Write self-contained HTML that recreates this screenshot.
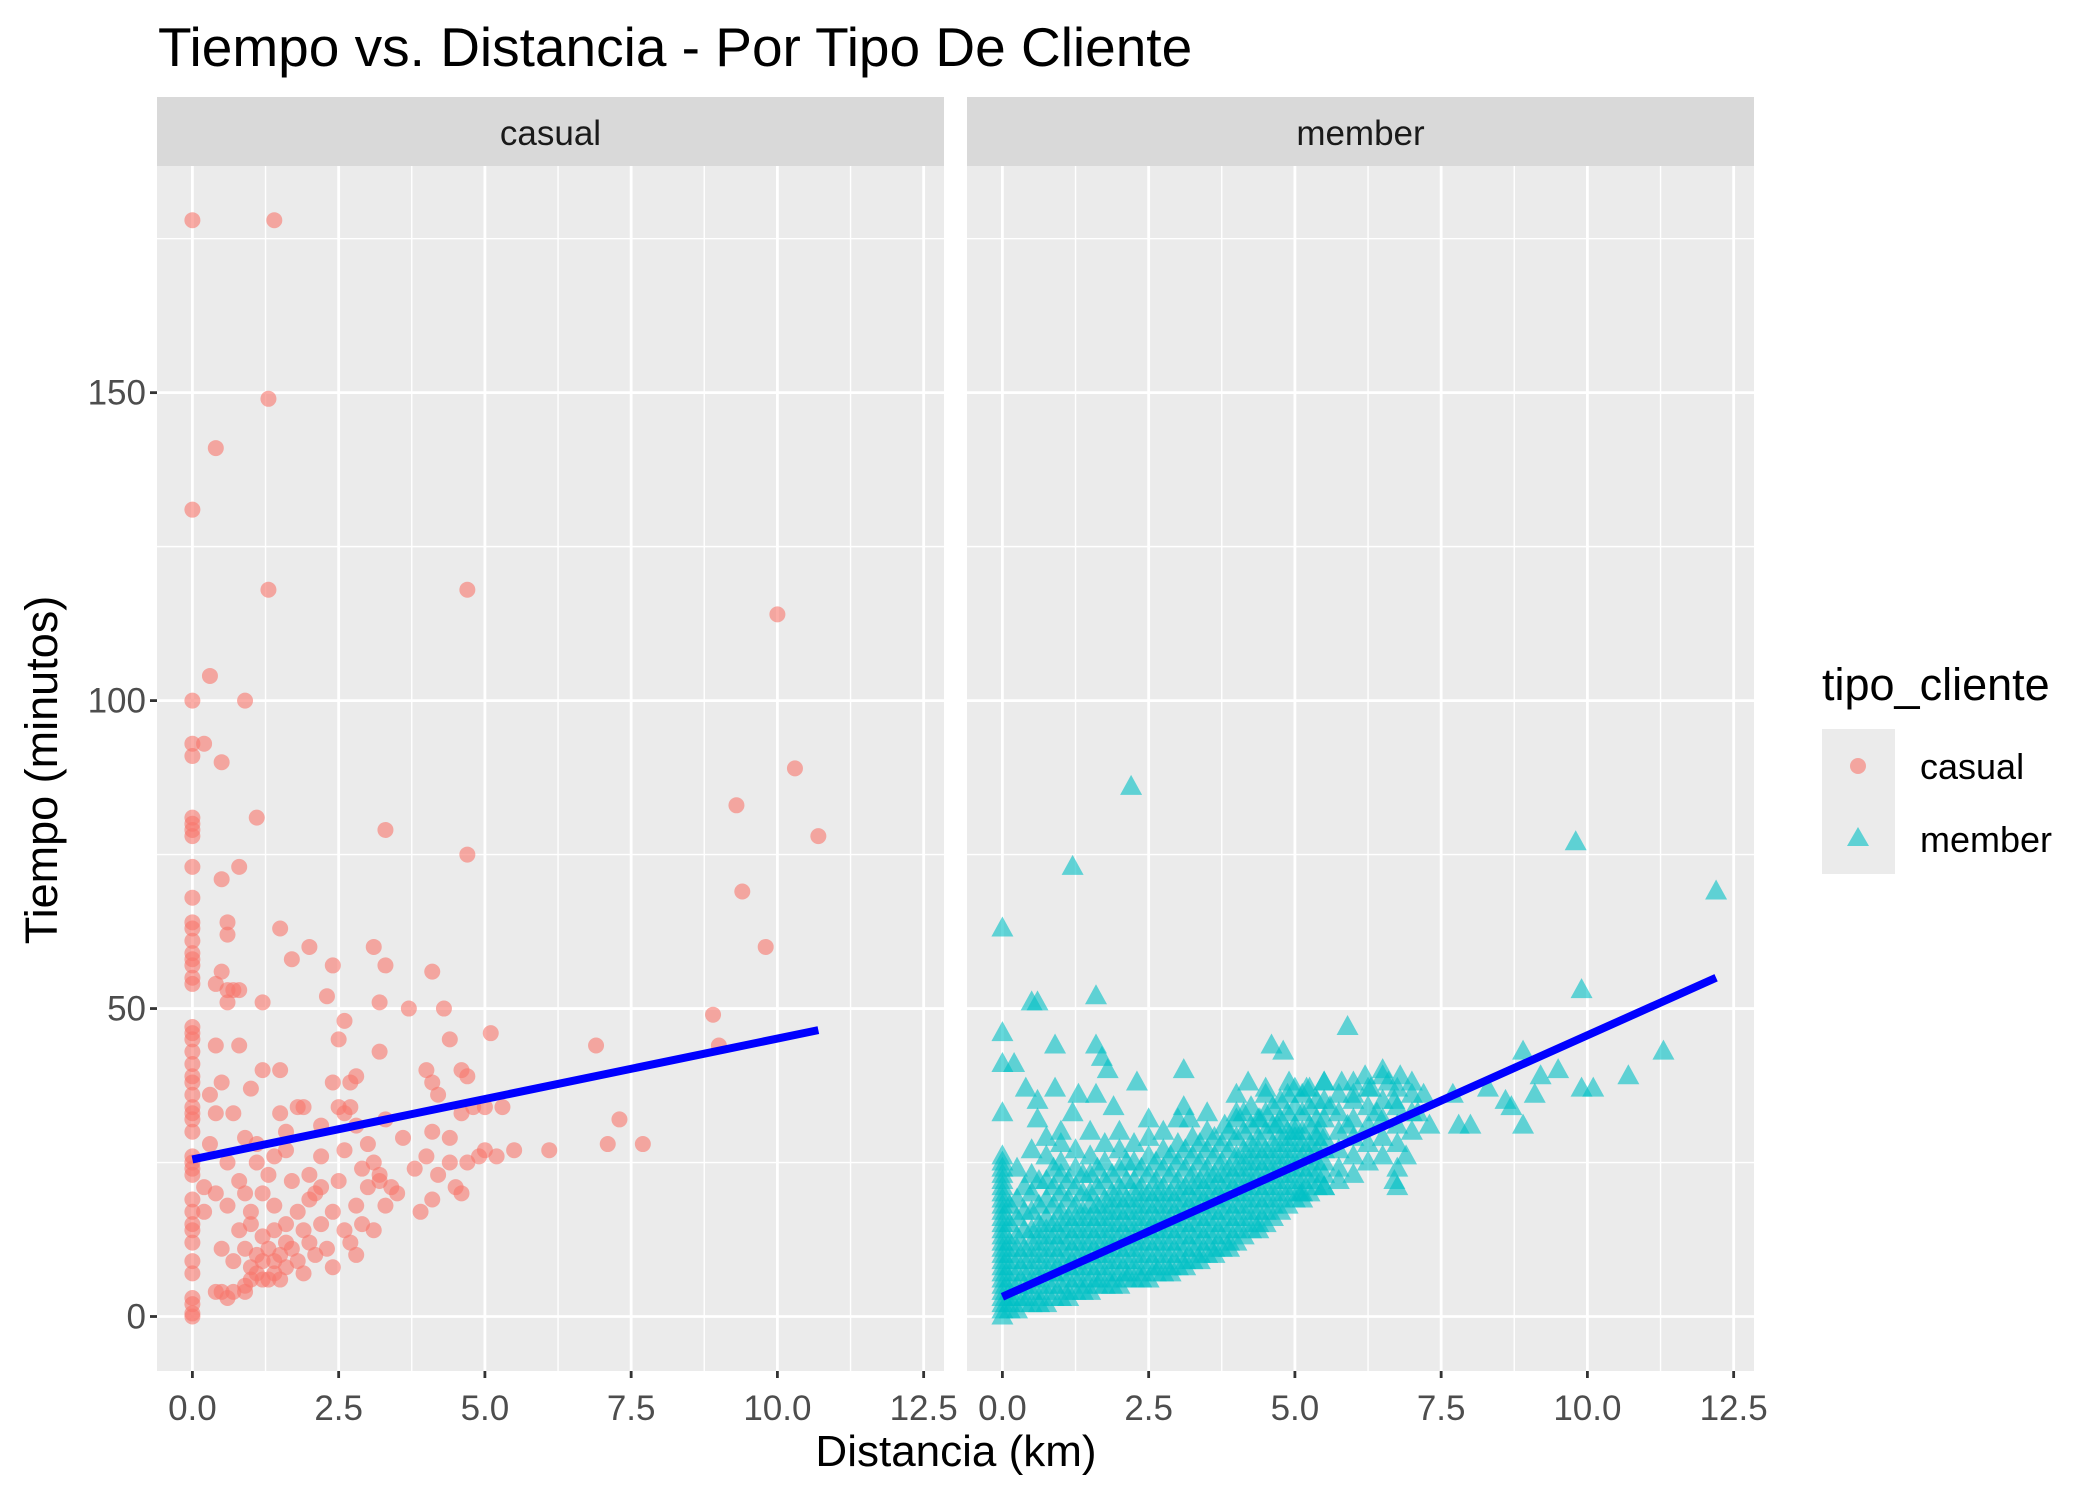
<!DOCTYPE html>
<html><head><meta charset="utf-8"><style>
html,body{margin:0;padding:0;background:#fff;}
svg{display:block;font-family:"Liberation Sans",Arial,sans-serif;}
</style></head><body>
<svg id="chart" width="2100" height="1500" viewBox="0 0 2100 1500" xmlns="http://www.w3.org/2000/svg">
<rect width="2100" height="1500" fill="#fff"/>
<text x="158" y="66" font-size="55" fill="#000">Tiempo vs. Distancia - Por Tipo De Cliente</text>
<text transform="translate(57,770) rotate(-90)" text-anchor="middle" font-size="45" fill="#000">Tiempo (minutos)</text>
<text x="956" y="1466" text-anchor="middle" font-size="44" fill="#000">Distancia (km)</text>
<g id="panels"></g>
<g>
<text x="1822" y="700" font-size="45" fill="#000">tipo_cliente</text>
<rect x="1822" y="729" width="73" height="145" fill="#EBEBEB"/>
<circle cx="1858" cy="766" r="8" fill="#F8766D" fill-opacity="0.6"/>
<polygon points="1858,827 1869,846 1847,846" fill="#00BFC4" fill-opacity="0.6"/>
<text x="1920" y="779" font-size="36" fill="#000">casual</text>
<text x="1920" y="852" font-size="36" fill="#000">member</text>
</g>
</svg>
<script>
const xTicks=[0,2.5,5,7.5,10,12.5];
const xTickLabels=["0.0","2.5","5.0","7.5","10.0","12.5"];
const yTicks=[0,50,100,150];
const yTickLabels=["0","50","100","150"];
const xMinor=[1.25,3.75,6.25,8.75,11.25];
const yMinor=[25,75,125,175];
const panelNames=["casual","member"];
const casualPoints=[[0,178],[1.4,178],[1.3,149],[0.4,141],[0,131],[1.3,118],[4.7,118],[10,114],[0.3,104],[0,100],[0.9,100],[0,93],[0.2,93],[0,91],[0.5,90],[10.3,89],[9.3,83],[1.1,81],[0,81],[0,80],[0,79],[0,78],[3.3,79],[10.7,78],[4.7,75],[0.8,73],[0,73],[0.5,71],[9.4,69],[0,68],[0.6,64],[0,64],[0,63],[1.5,63],[0.6,62],[0,61],[9.8,60],[2,60],[3.1,60],[0,59],[0,58],[1.7,58],[0,57],[2.4,57],[3.3,57],[4.1,56],[0.5,56],[0,55],[0,54],[0.4,54],[0.6,53],[0.8,53],[0.7,53],[2.3,52],[0.6,51],[1.2,51],[3.2,51],[3.7,50],[4.3,50],[8.9,49],[2.6,48],[0,47],[0,46],[5.1,46],[0,45],[2.5,45],[4.4,45],[6.9,44],[0.4,44],[0.8,44],[9,44],[0,43],[3.2,43],[0,41],[1.2,40],[1.5,40],[4,40],[4.6,40],[4.7,39],[0,39],[0,38],[0.5,38],[2.4,38],[2.7,38],[2.8,39],[4.1,38],[4.8,34],[0,36],[0,34],[1,37],[4.2,36],[0,33],[0.4,33],[0.7,33],[1.5,33],[1.8,34],[1.9,34],[3.3,32],[4.6,33],[5.3,34],[5,34],[7.3,32],[0,32],[0,30],[1.6,30],[0.9,29],[2.5,34],[2.6,33],[2.7,34],[3.6,29],[4.1,30],[4.4,29],[7.1,28],[7.7,28],[6.1,27],[5.5,27],[5.2,26],[5.0,27],[4.9,26],[0,26],[0.3,28],[1.1,25],[1.4,26],[1.6,27],[2.2,26],[2.6,27],[3.1,25],[4.0,26],[4.4,25],[4.7,25],[0,25],[0,24],[0,23],[0.6,25],[1.3,23],[1.7,22],[2.0,23],[2.5,22],[3.2,23],[3.8,24],[4.2,23],[4.5,21],[0.2,21],[0.4,20],[0.9,20],[1.2,20],[2.1,20],[3.0,21],[3.5,20],[4.1,19],[4.6,20],[0,19],[0,17],[0,15],[0.2,17],[0.6,18],[1.0,17],[1.4,18],[1.8,17],[2.4,17],[2.8,18],[3.3,18],[3.9,17],[0,14],[0,12],[0,9],[0,7],[0.5,11],[0.8,14],[1.0,15],[1.2,13],[1.4,14],[1.6,15],[1.9,14],[2.2,15],[2.6,14],[2.9,15],[3.1,14],[0.9,11],[1.1,10],[1.3,11],[1.5,10],[1.7,11],[2.0,12],[2.3,11],[2.7,12],[0.7,9],[1.0,8],[1.2,9],[1.4,7],[1.6,8],[1.8,9],[2.1,10],[2.4,8],[2.8,10],[0.5,4],[0.6,3],[0.7,4],[0.9,5],[1.0,6],[1.1,7],[1.3,6],[1.5,6],[1.9,7],[0.9,4],[0,3],[0,2],[0,0],[0,0.5],[0.4,4],[1.2,6],[1.4,9],[1.6,12],[2.0,19],[2.2,21],[2.9,24],[3.2,22],[3.4,21],[0.8,22],[1.1,28],[2.2,31],[2.8,31],[0.3,36],[3.0,28]];
const memberOutliers=[[2.2,86],[9.8,77],[1.2,73],[12.2,69],[0,63],[9.9,53],[1.6,52],[0.5,51],[0.6,51],[5.9,47],[0,46],[0.9,44],[1.6,44],[4.6,44],[4.8,43],[1.7,42],[11.3,43],[8.9,43],[0,41],[0.2,41],[1.8,40],[3.1,40],[10.7,39],[9.5,40],[9.2,39],[0.4,37],[0.9,37],[2.3,38],[9.9,37],[10.1,37],[0,33],[0.6,35],[1.3,36],[1.6,36],[0.6,32],[1.0,30],[1.2,33],[1.9,34],[3.1,34],[3.2,32],[8.3,37],[8.6,35],[8.7,34],[9.1,36],[8.9,31],[7.8,31],[8.0,31],[7.3,31],[7.1,33],[7.7,36],[7.0,38],[6.8,39],[6.5,40],[6.2,39],[5.8,38],[5.5,38],[5.2,37],[4.9,38],[4.5,37],[4.2,38],[6.0,36],[6.3,37],[6.6,38],[5.6,34],[5.9,31],[6.4,33],[6.7,35],[7.2,36],[5.4,30],[6.7,22],[6.9,26],[5.1,20],[5.5,21],[4.4,32],[3.8,31],[4.0,33],[4.7,31],[5.0,30]];
const memberCloudDist=[0,0.125,0.25,0.375,0.5,0.625,0.75,0.875,1.0,1.125,1.25,1.375,1.5,1.625,1.75,1.875,2.0,2.125,2.25,2.375,2.5,2.625,2.75,2.875,3.0,3.125,3.25,3.375,3.5,3.625,3.75,3.875,4.0,4.125,4.25,4.375,4.5,4.625,4.75,4.875,5.0,5.125,5.25,5.375,5.5,5.75,6.0,6.25,6.5,6.75,7.0];
const memberCloudTimes=[
[0,1,2,3,4,5,6,7,8,9,10,11,12,13,14,15,16,17,18,19,20,21,22,23,24,25,26],
[1,2,3,4,6,8,10,12,15,18],
[1,3,5,7,9,11,13,16,19,24],
[2,3,5,7,9,11,14,17,21],
[2,4,6,8,10,12,14,17,20,23,27],
[2,3,5,7,9,11,13,15,18,22],
[2,4,6,8,10,12,14,16,19,22,26,29],
[3,5,7,9,11,13,15,18,21,24],
[3,5,7,9,11,13,15,17,20,23,25,28],
[3,4,6,8,10,12,14,16,19,22],
[4,6,8,10,12,14,16,18,21,24,27],
[4,5,7,9,11,13,15,17,20,23],
[4,6,8,10,12,14,16,18,20,23,26,30],
[5,6,8,10,12,14,16,18,21,24],
[5,7,9,11,13,15,17,19,22,25,28],
[5,6,8,10,12,14,16,18,20,23],
[5,7,9,11,13,15,17,19,21,24,27,30],
[6,7,9,11,13,15,17,19,22,25],
[6,8,10,12,14,16,18,20,22,25,28],
[6,7,9,11,13,15,17,19,21,24],
[6,8,10,12,14,16,18,20,23,26,29,32],
[7,8,10,12,14,16,18,20,22,25],
[7,9,11,13,15,17,19,21,24,27,30],
[7,8,10,12,14,16,18,20,23,26],
[8,10,12,14,16,18,20,22,25,28,32],
[8,9,11,13,15,17,19,21,24,27],
[9,11,13,15,17,19,21,23,26,29],
[9,10,12,14,16,18,20,22,25,28],
[10,12,14,16,18,20,22,24,27,30,33],
[10,11,13,15,17,19,21,23,26,29],
[11,13,15,17,19,21,23,25,28],
[11,12,14,16,18,20,22,24,27,30],
[12,14,16,18,20,22,24,26,29,32,36],
[13,15,17,19,21,23,25,27,30,33],
[14,16,18,20,22,24,26,28,31,34],
[14,15,17,19,21,23,25,27,29,32],
[15,17,19,21,23,25,27,30,33,36],
[16,18,20,22,24,26,28,31,34],
[17,19,21,23,25,27,29,32,35],
[18,20,22,24,26,28,30,33,36],
[19,21,23,25,27,29,31,34,37],
[19,20,22,24,26,28,30,33,36],
[20,22,24,26,28,31,34,37],
[21,23,25,27,29,32,35],
[21,23,25,27,29,32,35,38],
[22,24,27,30,33,36],
[23,26,29,32,35,38],
[25,28,31,34,37],
[26,29,32,35,39],
[21,24,28,31,34,37],
[30,33,36]];
const casualFitX=[0,10.7];
const casualFitY=[25.5,46.5];
const memberFitX=[0,12.2];
const memberFitY=[3.2,55];

const NS="http://www.w3.org/2000/svg";
const root=document.getElementById('panels');
const PW=787, PT=166, PB=1371, STRIPT=97;
const panelLeft=[157,967];
const X0OFF=35.4, XS=58.5;
const yScale=v=>1316.5-v*6.159;
function mk(tag,attrs,parent){const e=document.createElementNS(NS,tag);for(const k in attrs)e.setAttribute(k,attrs[k]);parent.appendChild(e);return e;}

panelNames.forEach((name,pi)=>{
  const L=panelLeft[pi];
  const xScale=v=>L+X0OFF+v*XS;
  const g=mk('g',{},root);
  
  
  const bg=mk('rect',{x:L,y:PT,width:PW,height:PB-PT,fill:'#EBEBEB'},g);
  
  
  const strip=mk('rect',{x:L,y:STRIPT,width:PW,height:PT-STRIPT,fill:'#D9D9D9'},g);
  
  
  const st=mk('text',{x:L+PW/2,y:145,'text-anchor':'middle','font-size':'35',fill:'#1A1A1A'},g);
  st.textContent=name;
  
  
  xMinor.forEach(v=>{mk('line',{x1:xScale(v),x2:xScale(v),y1:PT,y2:PB,stroke:'#fff','stroke-width':1.4},g);});
  yMinor.forEach(v=>{mk('line',{x1:L,x2:L+PW,y1:yScale(v),y2:yScale(v),stroke:'#fff','stroke-width':1.4},g);});
  xTicks.forEach((v,i)=>{
    mk('line',{x1:xScale(v),x2:xScale(v),y1:PT,y2:PB,stroke:'#fff','stroke-width':2.8},g);
    mk('line',{x1:xScale(v),x2:xScale(v),y1:PB,y2:PB+7,stroke:'#333','stroke-width':2.8},g);
    const t=mk('text',{x:xScale(v),y:PB+49,'text-anchor':'middle','font-size':'35',fill:'#4D4D4D'},g);
    t.textContent=xTickLabels[i];
    
    
  });
  yTicks.forEach((v,i)=>{
    mk('line',{x1:L,x2:L+PW,y1:yScale(v),y2:yScale(v),stroke:'#fff','stroke-width':2.8},g);
    if(pi===0){
      mk('line',{x1:L-7,x2:L,y1:yScale(v),y2:yScale(v),stroke:'#333','stroke-width':2.8},g);
      const t=mk('text',{x:L-11,y:yScale(v)+12,'text-anchor':'end','font-size':'35',fill:'#4D4D4D'},g);
      t.textContent=yTickLabels[i];
      
      
    }
  });
  const clip=mk('g',{},g);
  if(name==='casual'){
    casualPoints.forEach(p=>{
      const c=mk('circle',{cx:xScale(p[0]),cy:yScale(p[1]),r:8,fill:'#F8766D','fill-opacity':0.6},clip);
      
      
    });
    const ln=mk('line',{x1:xScale(casualFitX[0]),y1:yScale(casualFitY[0]),x2:xScale(casualFitX[1]),y2:yScale(casualFitY[1]),stroke:'#0000FF','stroke-width':8},clip);
    
    
  } else {
    const tri=(x,y)=>{
      const cx=xScale(x),cy=yScale(y);
      const t=mk('polygon',{points:`${cx},${cy-12} ${cx+11},${cy+8} ${cx-11},${cy+8}`,fill:'#00BFC4','fill-opacity':0.6},clip);
      
      
    };
    memberCloudDist.forEach((d,i)=>memberCloudTimes[i].forEach(tm=>tri(d,tm)));
    memberOutliers.forEach(p=>tri(p[0],p[1]));
    const ln=mk('line',{x1:xScale(memberFitX[0]),y1:yScale(memberFitY[0]),x2:xScale(memberFitX[1]),y2:yScale(memberFitY[1]),stroke:'#0000FF','stroke-width':8},clip);
    
    
  }
});
</script>
</body></html>
